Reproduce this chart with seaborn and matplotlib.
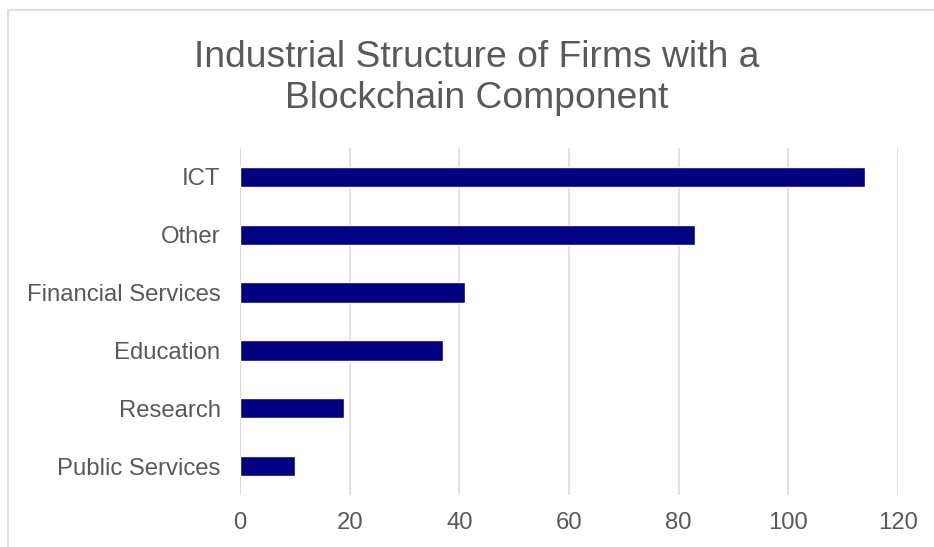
import matplotlib
matplotlib.use("Agg")
import matplotlib.pyplot as plt
from matplotlib.patches import Rectangle
import seaborn as sns
import pandas as pd

# Number of firms with a blockchain component, by industry
industries = ["ICT", "Other", "Financial Services", "Education", "Research", "Public Services"]
firm_counts = [114, 83, 41, 37, 19, 10]
x_ticks = [0, 20, 40, 60, 80, 100, 120]
title_text = "Industrial Structure of Firms with a\nBlockchain Component"

sns.set_theme(style="white")
plt.rcParams["font.family"] = ["Liberation Sans", "DejaVu Sans"]

text_color = "#595959"
grid_color = "#d9d9d9"
bar_color = "#000080"

df = pd.DataFrame({"Industry": industries, "Firms": firm_counts})

fig = plt.figure(figsize=(9.34, 5.47), dpi=100)
fig.patch.set_facecolor("white")

# Chart frame
fig.patches.append(Rectangle((8 / 934, -0.05), 1.2, 1 - 10 / 547 + 0.05,
                             transform=fig.transFigure, fill=False,
                             edgecolor="#d9d9d9", linewidth=1.2))

ax = fig.add_axes([240 / 934, 1 - 495 / 547, (898 - 240) / 934, (495 - 148) / 547])

sns.barplot(data=df, x="Firms", y="Industry", orient="h", ax=ax,
            color=bar_color, width=0.35, saturation=1, zorder=3)

ax.set_xlim(0, 120)
ax.set_xticks(x_ticks)
ax.set_xticklabels([str(t) for t in x_ticks])
ax.set_xlabel("")
ax.set_ylabel("")
ax.grid(axis="x", color=grid_color, linewidth=1.1, zorder=0)
ax.grid(axis="y", visible=False)
ax.set_axisbelow(True)
for side in ["top", "right", "bottom", "left"]:
    ax.spines[side].set_visible(False)
ax.axvline(0, color=grid_color, linewidth=1.1, zorder=1)

ax.tick_params(axis="x", length=0, pad=12, labelsize=17.2, labelcolor=text_color)
ax.tick_params(axis="y", length=0, pad=14, labelsize=17.2, labelcolor=text_color)

fig.text(477 / 934, 1 - 78 / 547, title_text, ha="center", va="center",
         fontsize=26.8, color=text_color, linespacing=1.23)

fig.savefig("out.png", dpi=100, facecolor="white")
